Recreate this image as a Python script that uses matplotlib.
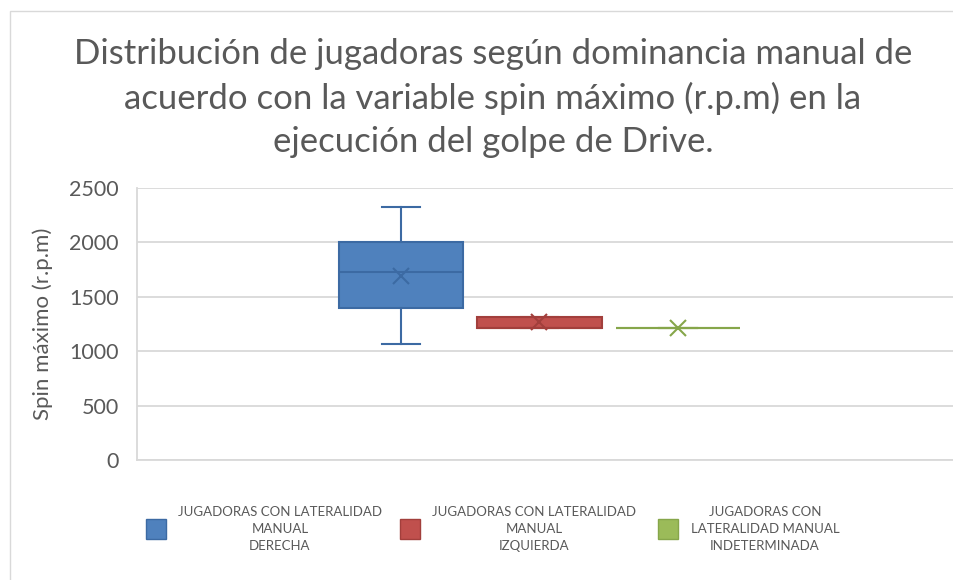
import matplotlib.pyplot as plt
from matplotlib.patches import Rectangle

plt.rcParams['font.family'] = ['Lato', 'DejaVu Sans']

# data (spin maximo, r.p.m)
groups = ['JUGADORAS CON LATERALIDAD\nMANUAL\nDERECHA',
          'JUGADORAS CON LATERALIDAD\nMANUAL\nIZQUIERDA',
          'JUGADORAS CON\nLATERALIDAD MANUAL\nINDETERMINADA']
whis_lo = [1068, 1215, 1216]
q1 = [1393, 1215, 1216]
med = [1729, 1215, 1216]
q3 = [2000, 1310, 1216]
whis_hi = [2320, 1310, 1216]
means = [1689, 1264, 1216]

fills = ['#4F81BD', '#C0504D', '#9BBB59']
edges = ['#3C6AA3', '#A23F3C', '#86A64A']
grey_txt = '#595959'
grid_c = '#D9D9D9'

W, H = 954, 580
fig = plt.figure(figsize=(W / 100, H / 100), dpi=100)
ax = fig.add_axes([137 / W, (H - 460) / H, (W - 137) / W, 272.3 / H])

pos = [0, 1, 2]
for i in range(3):
    st = dict(whislo=whis_lo[i], q1=q1[i], med=med[i], q3=q3[i],
              whishi=whis_hi[i], mean=means[i], fliers=[])
    ax.bxp([st], positions=[pos[i]], widths=0.9, patch_artist=True,
           showmeans=True, meanline=False,
           boxprops=dict(facecolor=fills[i], edgecolor=edges[i], linewidth=1.5),
           medianprops=dict(color=edges[i], linewidth=1.5),
           whiskerprops=dict(color=edges[i], linewidth=1.5),
           capprops=dict(color=edges[i], linewidth=1.5),
           capwidths=0.27,
           meanprops=dict(marker='x', markersize=11, markeredgecolor=edges[i],
                          markeredgewidth=1.5))

ax.set_xlim((137 - 401) / 138.5, (W - 401) / 138.5)
ax.set_ylim(0, 2500)
ax.set_yticks(range(0, 2501, 500))
ax.set_xticks([])
ax.grid(axis='y', color=grid_c, linewidth=1.3)
ax.set_axisbelow(True)
for s in ['top', 'right']:
    ax.spines[s].set_visible(False)
ax.spines['left'].set_color(grid_c)
ax.spines['bottom'].set_color(grid_c)
ax.spines['left'].set_linewidth(1.3)
ax.spines['bottom'].set_linewidth(1.3)
ax.tick_params(axis='y', length=0, labelsize=15.5, labelcolor=grey_txt, pad=13)
ax.set_ylabel('Spin máximo (r.p.m)', fontsize=16, color=grey_txt, labelpad=12)

fig.text(493 / W, 1 - 98 / H,
         'Distribución de jugadoras según dominancia manual de\n'
         'acuerdo con la variable spin máximo (r.p.m) en la\n'
         'ejecución del golpe de Drive.',
         ha='center', va='center', fontsize=25, color=grey_txt, linespacing=1.42)

# legend, placed by hand
sq_x = [146, 400, 658]
txt_x = [280, 534, 765]
for i in range(3):
    fig.patches.append(Rectangle((sq_x[i] / W, 1 - 539 / H), 20 / W, 20 / H,
                                 transform=fig.transFigure, facecolor=fills[i],
                                 edgecolor=edges[i], linewidth=1))
    fig.text(txt_x[i] / W, 1 - 529 / H, groups[i], ha='center', va='center',
             fontsize=9.5, color=grey_txt, linespacing=1.45)

# chart border
fig.patches.append(Rectangle((10 / W, -0.05), 1.1, 1 - 11 / H + 0.05,
                             transform=fig.transFigure, fill=False,
                             edgecolor=grid_c, linewidth=1))

fig.savefig('out.png', dpi=100)
